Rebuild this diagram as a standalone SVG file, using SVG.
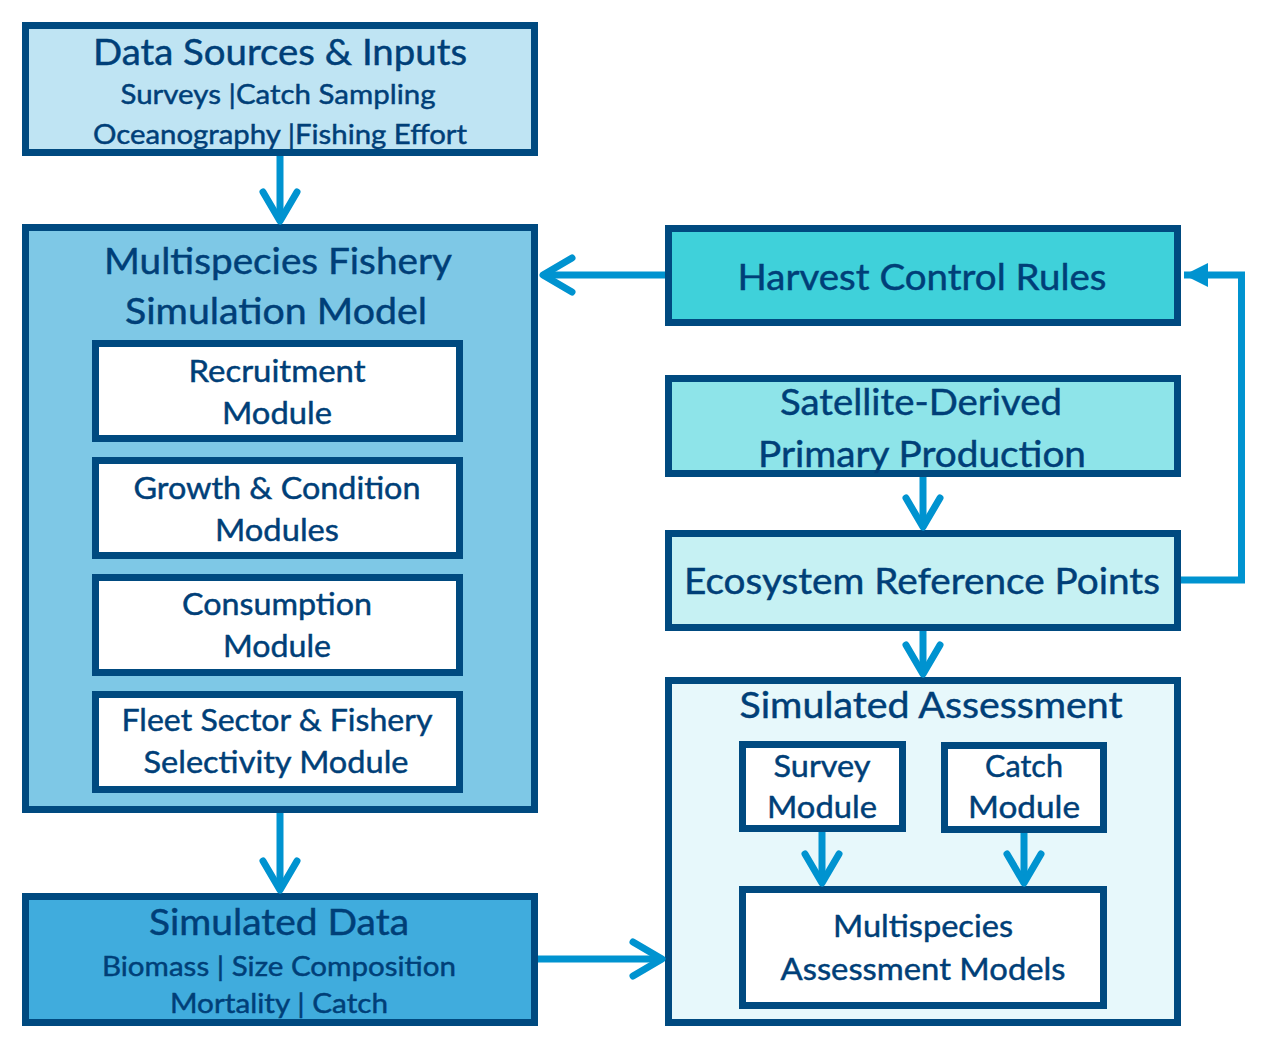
<svg xmlns="http://www.w3.org/2000/svg" width="1280" height="1054" viewBox="0 0 1280 1054">
<defs>
<style>
.box{stroke:#004a80;stroke-width:7}
.t{font-family:Lato,"Open Sans","DejaVu Sans",sans-serif;fill:#003f78;stroke:#003f78;stroke-width:0.45;text-anchor:middle}
.h{font-size:36px}
.s{font-size:27px}
.m{font-size:30px}
.c{fill:none;stroke:#0093d0;stroke-width:7}
</style>
<marker id="chev" markerUnits="userSpaceOnUse" viewBox="-40 -25 50 50" refX="0" refY="0" markerWidth="50" markerHeight="50" orient="auto" overflow="visible">
<path d="M-29 -17 L0 0 L-29 17" fill="none" stroke="#0093d0" stroke-width="7" stroke-linecap="round" stroke-linejoin="round"/>
</marker>
<marker id="tri" markerUnits="userSpaceOnUse" viewBox="-30 -15 35 30" refX="0" refY="0" markerWidth="35" markerHeight="30" orient="auto" overflow="visible">
<path d="M-24 -12 L0 0 L-24 12 Z" fill="#0093d0"/>
</marker>
</defs>
<rect width="1280" height="1054" fill="#ffffff"/>

<g id="data-sources">
<rect class="box" x="25.5" y="25.5" width="509" height="127" fill="#bfe4f3"/>
<text class="t h" x="280" y="65" textLength="374" lengthAdjust="spacingAndGlyphs">Data Sources &amp; Inputs</text>
<text class="t s" x="278" y="104" textLength="315" lengthAdjust="spacingAndGlyphs">Surveys |Catch Sampling</text>
<text class="t s" x="280" y="144" textLength="374" lengthAdjust="spacingAndGlyphs">Oceanography |Fishing Effort</text>
</g>

<g id="simulation-model">
<rect class="box" x="25.5" y="227.5" width="509" height="582" fill="#7ec8e6"/>
<text class="t h" x="278" y="274" textLength="348" lengthAdjust="spacingAndGlyphs">Multispecies Fishery</text>
<text class="t h" x="276" y="324" textLength="302" lengthAdjust="spacingAndGlyphs">Simulation Model</text>
</g>

<g id="recruitment">
<rect class="box" x="95.5" y="343.5" width="364" height="95" fill="#ffffff"/>
<text class="t m" x="277" y="382" textLength="177" lengthAdjust="spacingAndGlyphs">Recruitment</text>
<text class="t m" x="277" y="424" textLength="110" lengthAdjust="spacingAndGlyphs">Module</text>
</g>

<g id="growth">
<rect class="box" x="95.5" y="460.5" width="364" height="95" fill="#ffffff"/>
<text class="t m" x="277" y="499" textLength="287" lengthAdjust="spacingAndGlyphs">Growth &amp; Condition</text>
<text class="t m" x="277" y="541" textLength="124" lengthAdjust="spacingAndGlyphs">Modules</text>
</g>

<g id="consumption">
<rect class="box" x="95.5" y="577.5" width="364" height="95" fill="#ffffff"/>
<text class="t m" x="277" y="615" textLength="190" lengthAdjust="spacingAndGlyphs">Consumption</text>
<text class="t m" x="277" y="657" textLength="108" lengthAdjust="spacingAndGlyphs">Module</text>
</g>

<g id="fleet">
<rect class="box" x="95.5" y="694.5" width="364" height="95" fill="#ffffff"/>
<text class="t m" x="277" y="731" textLength="311" lengthAdjust="spacingAndGlyphs">Fleet Sector &amp; Fishery</text>
<text class="t m" x="276" y="773" textLength="265" lengthAdjust="spacingAndGlyphs">Selectivity Module</text>
</g>

<g id="simulated-data">
<rect class="box" x="25.5" y="896.5" width="509" height="126" fill="#40acdd"/>
<text class="t h" x="279" y="935" textLength="260" lengthAdjust="spacingAndGlyphs">Simulated Data</text>
<text class="t s" x="279" y="976" textLength="354" lengthAdjust="spacingAndGlyphs">Biomass | Size Composition</text>
<text class="t s" x="279" y="1013" textLength="218" lengthAdjust="spacingAndGlyphs">Mortality | Catch</text>
</g>

<g id="harvest-control-rules">
<rect class="box" x="668.5" y="228.5" width="509" height="94" fill="#3fd1da"/>
<text class="t h" x="922" y="290" textLength="369" lengthAdjust="spacingAndGlyphs">Harvest Control Rules</text>
</g>

<g id="satellite">
<rect class="box" x="668.5" y="378.5" width="509" height="95" fill="#8ee4e9"/>
<text class="t h" x="921" y="415" textLength="282" lengthAdjust="spacingAndGlyphs">Satellite-Derived</text>
<text class="t h" x="922" y="467" textLength="328" lengthAdjust="spacingAndGlyphs">Primary Production</text>
</g>

<g id="ecosystem-reference-points">
<rect class="box" x="668.5" y="533.5" width="509" height="94" fill="#c6f1f3"/>
<text class="t h" x="922" y="594" textLength="476" lengthAdjust="spacingAndGlyphs">Ecosystem Reference Points</text>
</g>

<g id="simulated-assessment">
<rect class="box" x="668.5" y="680.5" width="509" height="342" fill="#e7f8fb"/>
<text class="t h" x="931" y="718" textLength="383" lengthAdjust="spacingAndGlyphs">Simulated Assessment</text>
</g>

<g id="survey-module">
<rect class="box" x="742.5" y="744.5" width="160" height="84" fill="#ffffff"/>
<text class="t m" x="822" y="777" textLength="97" lengthAdjust="spacingAndGlyphs">Survey</text>
<text class="t m" x="822" y="818" textLength="110" lengthAdjust="spacingAndGlyphs">Module</text>
</g>

<g id="catch-module">
<rect class="box" x="944.5" y="745.5" width="159" height="84" fill="#ffffff"/>
<text class="t m" x="1024" y="777" textLength="78" lengthAdjust="spacingAndGlyphs">Catch</text>
<text class="t m" x="1024" y="818" textLength="112" lengthAdjust="spacingAndGlyphs">Module</text>
</g>

<g id="multispecies-assessment">
<rect class="box" x="742.5" y="889.5" width="361" height="116" fill="#ffffff"/>
<text class="t m" x="923" y="937" textLength="180" lengthAdjust="spacingAndGlyphs">Multispecies</text>
<text class="t m" x="923" y="980" textLength="285" lengthAdjust="spacingAndGlyphs">Assessment Models</text>
</g>

<g id="connectors">
<path class="c" d="M280 156 V221" marker-end="url(#chev)"/>
<path class="c" d="M665 275 H543" marker-end="url(#chev)"/>
<path class="c" d="M1181 580 H1241.5 V275 H1184" marker-end="url(#tri)"/>
<path class="c" d="M923 477 V527" marker-end="url(#chev)"/>
<path class="c" d="M923 631 V674" marker-end="url(#chev)"/>
<path class="c" d="M280 813 V890" marker-end="url(#chev)"/>
<path class="c" d="M538 959 H662" marker-end="url(#chev)"/>
<path class="c" d="M822 832 V883" marker-end="url(#chev)"/>
<path class="c" d="M1024 833 V883" marker-end="url(#chev)"/>
</g>
</svg>
